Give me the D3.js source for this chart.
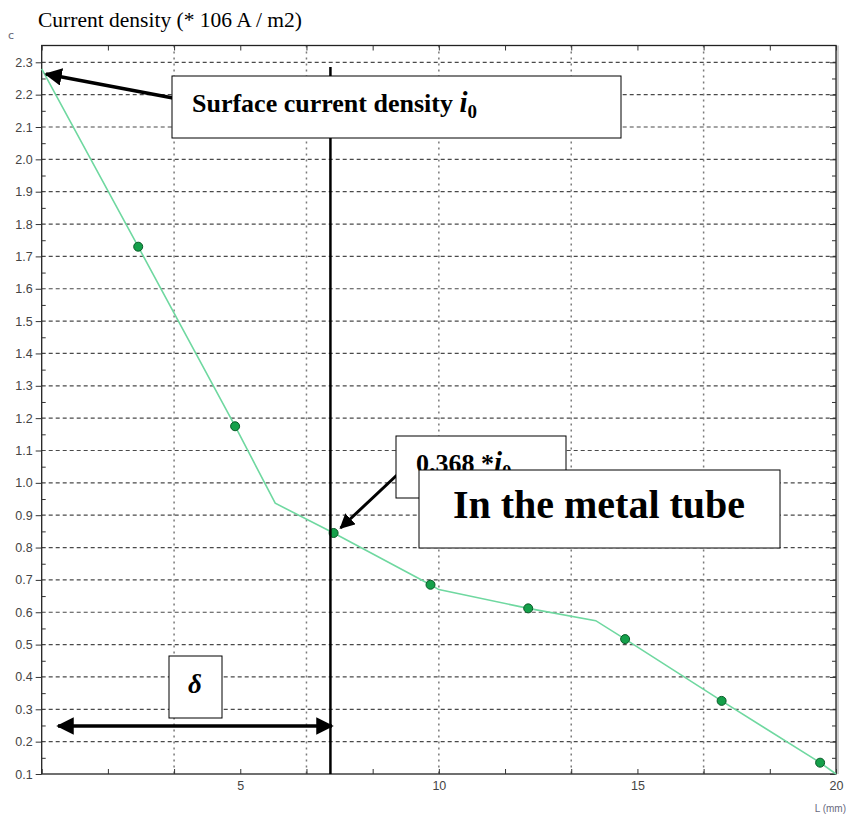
<!DOCTYPE html>
<html>
<head>
<meta charset="utf-8">
<script src="https://cdn.jsdelivr.net/npm/d3@7"></script>
<style>
  html, body { margin: 0; padding: 0; background: #fff; }
  svg { display: block; }
</style>
</head>
<body>
<div id="chart"></div>
<script>
"use strict";

const WIDTH = 848;
const HEIGHT = 817;
const LEFT = 41.7;
const RIGHT = 836;
const TOP = 45.5;
const BOTTOM = 774;

// measured points (L in mm, current density)
const pointL = [2.43, 4.87, 7.35, 9.79, 12.25, 14.69, 17.12, 19.6];
const pointJ = [1.73, 1.175, 0.845, 0.685, 0.612, 0.517, 0.326, 0.135];

// fitted curve vertices
const curveL = [0, 2.43, 4.87, 5.88, 7.35, 9.79, 10.0, 12.25, 13.95, 14.69, 17.12, 19.6, 20];
const curveJ = [2.28, 1.73, 1.175, 0.937, 0.845, 0.685, 0.67, 0.612, 0.574, 0.517, 0.326, 0.135, 0.1];

const yTickValues = d3.range(1, 24).map(d => d / 10);
const yMinorValues = d3.range(1, 23).map(d => d / 10 + 0.05);
const xLabelValues = [5, 10, 15, 20];
const xTickValues = d3.range(0, 13).map(d => d * 20 / 12);
const xGridValues = d3.range(1, 6).map(d => d * 20 / 6);

const DELTA_L = 7.27;

const x = d3.scaleLinear().domain([0, 20]).range([LEFT, RIGHT]);
const y = d3.scaleLinear().domain([0.1, 2.3]).range([BOTTOM, 62.3]);

const svg = d3.select("#chart").append("svg")
    .attr("width", WIDTH)
    .attr("height", HEIGHT);

const defs = svg.append("defs");
function marker(id, orient) {
    defs.append("marker")
        .attr("id", id)
        .attr("viewBox", "0 0 10 10")
        .attr("refX", 9)
        .attr("refY", 5)
        .attr("markerWidth", 5)
        .attr("markerHeight", 5)
        .attr("markerUnits", "strokeWidth")
        .attr("orient", orient)
        .append("path")
        .attr("d", "M0,0 L10,5 L0,10 z")
        .attr("fill", "#000");
}
marker("arrow", "auto");
marker("arrow-start", "auto-start-reverse");

const SERIF = "Liberation Serif, Times New Roman, serif";
const SANS = "Liberation Sans, Arial, sans-serif";

// title
svg.append("text")
    .attr("x", 38)
    .attr("y", 27)
    .attr("font-family", SERIF)
    .attr("font-size", 21.5)
    .attr("fill", "#000")
    .text("Current density (* 106 A / m2)");

svg.append("text")
    .attr("x", 8)
    .attr("y", 39)
    .attr("font-family", "DejaVu Sans, sans-serif")
    .attr("font-size", 11)
    .attr("fill", "#667")
    .text("c");

// grid
const grid = svg.append("g");
grid.selectAll("line.h")
    .data(yTickValues.filter(d => d > 0.1))
    .enter()
    .append("line")
    .attr("x1", LEFT)
    .attr("x2", RIGHT)
    .attr("y1", d => y(d))
    .attr("y2", d => y(d))
    .attr("stroke", "#4a4a4a")
    .attr("stroke-width", 1.2)
    .attr("stroke-dasharray", "4,3");

grid.selectAll("line.v")
    .data(xGridValues)
    .enter()
    .append("line")
    .attr("x1", d => x(d))
    .attr("x2", d => x(d))
    .attr("y1", TOP)
    .attr("y2", BOTTOM)
    .attr("stroke", "#7a7a7a")
    .attr("stroke-width", 1.5)
    .attr("stroke-dasharray", "2,4");

// frame shading and border
svg.append("rect")
    .attr("x", RIGHT)
    .attr("y", TOP)
    .attr("width", 3)
    .attr("height", BOTTOM - TOP)
    .attr("fill", "#d0d0d0");
svg.append("rect")
    .attr("x", LEFT)
    .attr("y", TOP)
    .attr("width", RIGHT - LEFT)
    .attr("height", BOTTOM - TOP)
    .attr("fill", "none")
    .attr("stroke", "#222")
    .attr("stroke-width", 1.3);

// axes
const fmt = d3.format(".1f");
const yAxis = d3.axisLeft(y)
    .tickValues(yTickValues)
    .tickSize(6)
    .tickPadding(3)
    .tickFormat(fmt);
const gy = svg.append("g")
    .attr("transform", "translate(" + LEFT + ",0)")
    .call(yAxis);
gy.select(".domain").remove();
gy.selectAll("line").attr("stroke", "#333");
gy.selectAll("text")
    .attr("font-family", SANS)
    .attr("font-size", 12.5)
    .attr("fill", "#444");

const gyMinor = svg.append("g")
    .attr("transform", "translate(" + LEFT + ",0)")
    .call(d3.axisRight(y).tickValues(yMinorValues).tickSize(4).tickFormat(""));
gyMinor.select(".domain").remove();
gyMinor.selectAll("line").attr("stroke", "#333");

const gyRight = svg.append("g")
    .attr("transform", "translate(" + RIGHT + ",0)")
    .call(d3.axisLeft(y).tickValues(yTickValues).tickSize(6).tickFormat(""));
gyRight.select(".domain").remove();
gyRight.selectAll("line").attr("stroke", "#333");
const gyRightMinor = svg.append("g")
    .attr("transform", "translate(" + RIGHT + ",0)")
    .call(d3.axisLeft(y).tickValues(yMinorValues).tickSize(4).tickFormat(""));
gyRightMinor.select(".domain").remove();
gyRightMinor.selectAll("line").attr("stroke", "#333");

const gx = svg.append("g")
    .attr("transform", "translate(0," + BOTTOM + ")")
    .call(d3.axisTop(x).tickValues(xTickValues).tickSize(5).tickFormat(""));
gx.select(".domain").remove();
gx.selectAll("line").attr("stroke", "#333");

const gxLabels = svg.append("g")
    .attr("transform", "translate(0," + BOTTOM + ")")
    .call(d3.axisBottom(x).tickValues(xLabelValues).tickSize(0).tickPadding(7));
gxLabels.select(".domain").remove();
gxLabels.selectAll("text")
    .attr("font-family", SANS)
    .attr("font-size", 12.5)
    .attr("fill", "#444");

const gxTop = svg.append("g")
    .attr("transform", "translate(0," + TOP + ")")
    .call(d3.axisBottom(x).tickValues(xTickValues).tickSize(5).tickFormat(""));
gxTop.select(".domain").remove();
gxTop.selectAll("line").attr("stroke", "#333");

svg.append("text")
    .attr("x", 846)
    .attr("y", 812)
    .attr("text-anchor", "end")
    .attr("font-family", SANS)
    .attr("font-size", 10)
    .attr("fill", "#6a6a80")
    .text("L (mm)");

// curve
const curveData = curveL.map((d, i) => ({ L: d, J: curveJ[i] }));
svg.append("path")
    .datum(curveData)
    .attr("fill", "none")
    .attr("stroke", "#6fd8a0")
    .attr("stroke-width", 1.6)
    .attr("d", d3.line().x(d => x(d.L)).y(d => y(d.J)));

svg.selectAll("circle.pt")
    .data(pointL.map((d, i) => ({ L: d, J: pointJ[i] })))
    .enter()
    .append("circle")
    .attr("cx", d => x(d.L))
    .attr("cy", d => y(d.J))
    .attr("r", 4.5)
    .attr("fill", "#14a04a")
    .attr("stroke", "#0a5a28")
    .attr("stroke-width", 1);

// annotations
const ann = svg.append("g");

// delta vertical line
ann.append("line")
    .attr("x1", x(DELTA_L))
    .attr("x2", x(DELTA_L))
    .attr("y1", 67)
    .attr("y2", BOTTOM)
    .attr("stroke", "#000")
    .attr("stroke-width", 2.5);

// surface current box + arrow
ann.append("line")
    .attr("x1", 173)
    .attr("y1", 98)
    .attr("x2", 46)
    .attr("y2", 74)
    .attr("stroke", "#000")
    .attr("stroke-width", 3.5)
    .attr("marker-end", "url(#arrow)");
ann.append("rect")
    .attr("x", 172)
    .attr("y", 76)
    .attr("width", 449)
    .attr("height", 62)
    .attr("fill", "#fff")
    .attr("stroke", "#000")
    .attr("stroke-width", 1);
const t1 = ann.append("text")
    .attr("x", 192)
    .attr("y", 112)
    .attr("font-family", SERIF)
    .attr("font-weight", "bold")
    .attr("font-size", 26)
    .text("Surface current density ");
t1.append("tspan").attr("font-style", "italic").attr("font-size", 29).text("i");
t1.append("tspan").attr("font-size", 19).attr("dy", 6).text("0");

// 0.368 i0 box + arrow
ann.append("line")
    .attr("x1", 397)
    .attr("y1", 475)
    .attr("x2", x(pointL[2]) + 7)
    .attr("y2", y(pointJ[2]) - 5)
    .attr("stroke", "#000")
    .attr("stroke-width", 3)
    .attr("marker-end", "url(#arrow)");
ann.append("rect")
    .attr("x", 396)
    .attr("y", 436)
    .attr("width", 170)
    .attr("height", 62)
    .attr("fill", "#fff")
    .attr("stroke", "#000")
    .attr("stroke-width", 1);
const t2 = ann.append("text")
    .attr("x", 416)
    .attr("y", 472)
    .attr("font-family", SERIF)
    .attr("font-weight", "bold")
    .attr("font-size", 26)
    .text("0.368 *");
t2.append("tspan").attr("font-style", "italic").attr("font-size", 29).text("i");
t2.append("tspan").attr("font-size", 19).attr("dy", 6).text("0");

// metal tube box
ann.append("rect")
    .attr("x", 419)
    .attr("y", 470)
    .attr("width", 361)
    .attr("height", 78)
    .attr("fill", "#fff")
    .attr("stroke", "#000")
    .attr("stroke-width", 1);
ann.append("text")
    .attr("x", 599)
    .attr("y", 518)
    .attr("text-anchor", "middle")
    .attr("font-family", SERIF)
    .attr("font-weight", "bold")
    .attr("font-size", 40)
    .text("In the metal tube");

// delta box and double arrow
ann.append("rect")
    .attr("x", 169)
    .attr("y", 656)
    .attr("width", 53)
    .attr("height", 62)
    .attr("fill", "#fff")
    .attr("stroke", "#000")
    .attr("stroke-width", 1);
ann.append("text")
    .attr("x", 195)
    .attr("y", 693)
    .attr("text-anchor", "middle")
    .attr("font-family", SERIF)
    .attr("font-weight", "bold")
    .attr("font-style", "italic")
    .attr("font-size", 27)
    .text("δ");
ann.append("line")
    .attr("x1", 58)
    .attr("x2", 332)
    .attr("y1", 726)
    .attr("y2", 726)
    .attr("stroke", "#000")
    .attr("stroke-width", 3.5)
    .attr("marker-start", "url(#arrow-start)")
    .attr("marker-end", "url(#arrow)");
</script>
</body>
</html>
